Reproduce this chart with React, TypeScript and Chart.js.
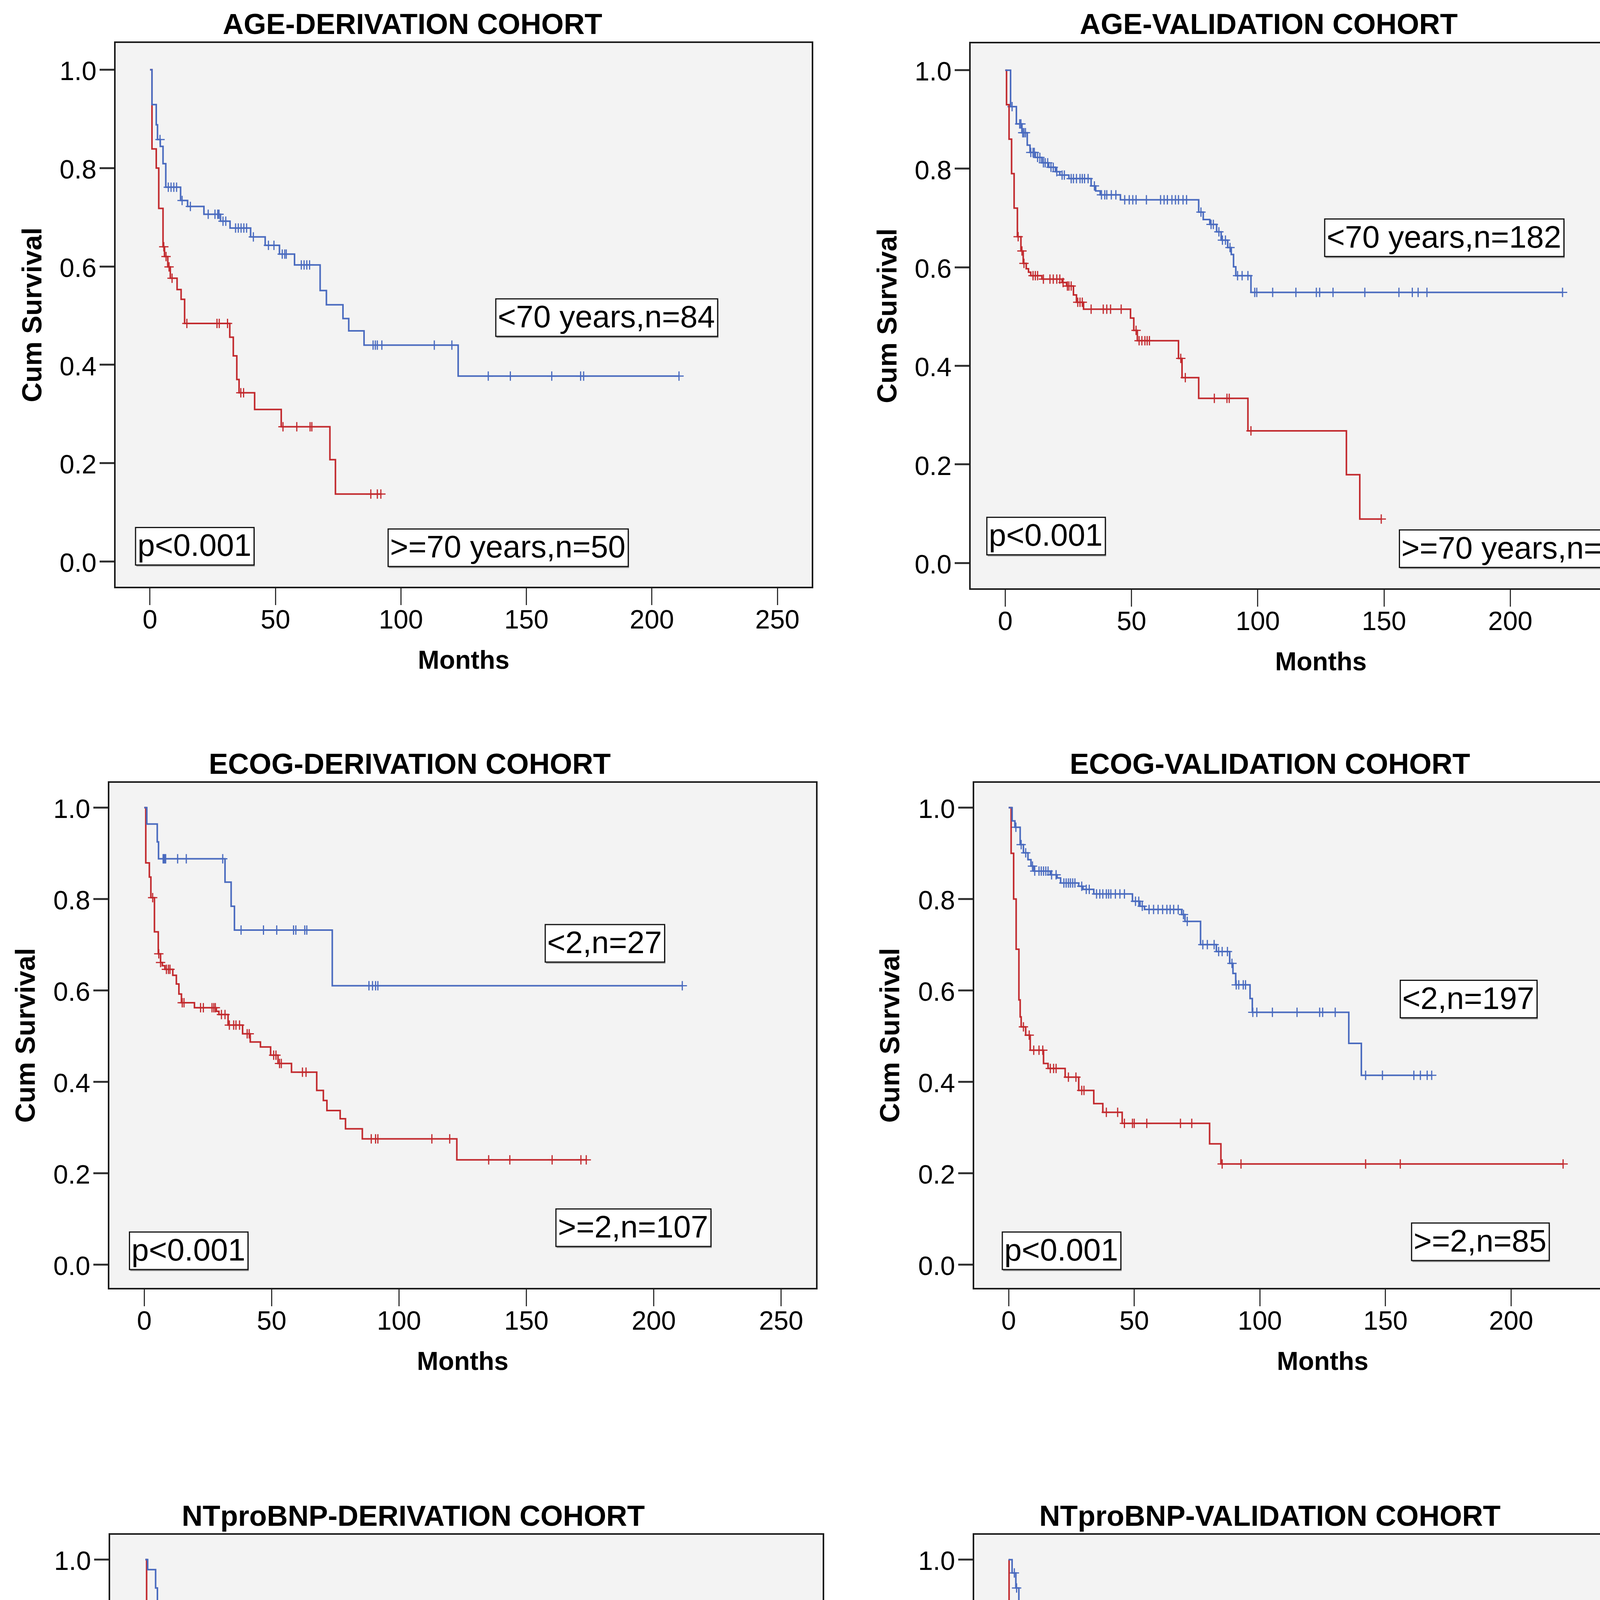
import React, { useEffect, useRef } from 'react';
import { Chart, registerables } from 'chart.js';

Chart.register(...registerables);

// ---------------- DATA ----------------
const xTickValues = [0, 50, 100, 150, 200, 250];
const yTickValues = [0, 0.2, 0.4, 0.6, 0.8, 1.0];

const panelTitles = [
  'AGE-DERIVATION COHORT',
  'AGE-VALIDATION COHORT',
  'ECOG-DERIVATION COHORT',
  'ECOG-VALIDATION COHORT',
  'NTproBNP-DERIVATION COHORT',
  'NTproBNP-VALIDATION COHORT',
];
const upperGroupLabels = ['<70 years,n=84', '<70 years,n=182', '<2,n=27', '<2,n=197', '<8500,n=80', '<8500,n=232'];
const lowerGroupLabels = ['>=70 years,n=50', '>=70 years,n=100', '>=2,n=107', '>=2,n=85', '>=8500,n=54', '>=8500,n=50'];
const pValueText = 'p<0.001';

// AGE - derivation
const ageDerLowTimes = [0.8, 2.5, 3.0, 4.1, 5.2, 6.3, 12.2, 15.0, 21.5, 28.1, 31.9, 40.1, 45.9, 51.6, 57.6, 67.8, 70.3, 76.9, 79.2, 85.3, 122.8];
const ageDerLowSurv = [0.929, 0.888, 0.858, 0.844, 0.809, 0.761, 0.734, 0.722, 0.706, 0.692, 0.678, 0.660, 0.643, 0.625, 0.603, 0.551, 0.522, 0.494, 0.469, 0.440, 0.377];
const ageDerLowCensor = [4.0, 7.3, 8.4, 9.5, 10.6, 12.8, 16.1, 23.2, 25.9, 27.0, 27.5, 29.1, 30.2, 34.1, 35.2, 36.3, 37.4, 38.5, 41.2, 47.2, 49.4, 52.7, 53.7, 54.3, 60.3, 61.4, 62.5, 63.6, 88.9, 89.8, 90.6, 92.4, 113.3, 120.3, 134.8, 143.6, 160.1, 171.6, 172.8, 210.8];
const ageDerHighTimes = [0.8, 2.5, 3.5, 5.2, 5.8, 7.1, 8.1, 10.8, 12.4, 13.8, 31.8, 33.2, 34.6, 35.5, 41.7, 52.3, 71.7, 73.9];
const ageDerHighSurv = [0.839, 0.800, 0.718, 0.640, 0.620, 0.599, 0.576, 0.553, 0.533, 0.484, 0.456, 0.418, 0.370, 0.343, 0.309, 0.274, 0.207, 0.137];
const ageDerHighCensor = [5.5, 6.4, 7.6, 8.8, 14.7, 26.7, 27.6, 30.9, 36.2, 37.3, 53.0, 58.5, 63.8, 64.5, 88.0, 90.6, 92.0];

// AGE - validation
const ageValLowTimes = [2.1, 4.4, 6.6, 8.7, 9.8, 11.9, 14.5, 17.2, 19.9, 21.6, 25.2, 34.0, 35.8, 37.6, 45.6, 76.6, 78.4, 81.0, 83.7, 85.5, 88.1, 89.5, 90.4, 91.3, 97.3];
const ageValLowSurv = [0.926, 0.891, 0.873, 0.848, 0.833, 0.823, 0.812, 0.803, 0.794, 0.787, 0.780, 0.765, 0.755, 0.747, 0.737, 0.712, 0.697, 0.687, 0.672, 0.655, 0.640, 0.626, 0.601, 0.583, 0.549];
const ageValLowCensor = [2.7, 5.7, 6.2, 6.9, 7.4, 8.0, 10.1, 11.0, 11.5, 12.8, 13.7, 15.1, 15.8, 16.8, 18.1, 19.0, 20.4, 22.5, 23.4, 26.1, 27.0, 28.2, 29.6, 30.5, 31.4, 32.8, 35.3, 38.1, 39.4, 40.2, 42.0, 43.8, 47.3, 49.1, 50.5, 51.8, 55.9, 61.5, 62.9, 64.2, 66.0, 67.4, 68.6, 70.4, 71.8, 77.5, 81.5, 82.4, 84.6, 86.0, 87.2, 89.0, 92.0, 93.8, 96.1, 98.8, 99.6, 105.9, 115.1, 123.2, 124.5, 129.8, 142.4, 155.9, 161.2, 163.5, 167.0, 220.7];
const ageValHighTimes = [0.5, 1.5, 2.5, 3.5, 4.8, 6.2, 7.1, 8.3, 9.2, 10.1, 14.5, 22.5, 24.3, 27.0, 28.2, 31.0, 49.6, 50.9, 52.3, 68.6, 70.0, 76.6, 96.1, 135.1, 140.4];
const ageValHighSurv = [0.93, 0.86, 0.79, 0.72, 0.662, 0.633, 0.608, 0.597, 0.590, 0.583, 0.576, 0.569, 0.562, 0.544, 0.529, 0.515, 0.497, 0.472, 0.451, 0.415, 0.376, 0.334, 0.268, 0.179, 0.089];
const ageValHighCensor = [5.1, 6.6, 7.4, 11.0, 11.9, 12.8, 15.1, 17.7, 19.0, 20.4, 21.6, 22.9, 24.6, 25.2, 26.1, 28.7, 29.6, 30.5, 34.0, 38.8, 40.2, 41.7, 45.9, 51.8, 53.0, 54.1, 55.3, 56.2, 57.1, 69.5, 71.3, 82.8, 87.8, 88.7, 97.3, 148.9];

// ECOG - derivation
const ecogDerLowTimes = [1.0, 5.1, 5.6, 31.7, 34.1, 35.4, 73.8];
const ecogDerLowSurv = [0.964, 0.925, 0.888, 0.837, 0.784, 0.732, 0.610];
const ecogDerLowCensor = [7.4, 7.7, 8.1, 8.4, 13.1, 16.5, 30.8, 38.0, 46.8, 52.0, 58.6, 59.5, 63.0, 63.8, 88.2, 89.6, 90.8, 91.7, 211.2];
const ecogDerHighTimes = [0.6, 2.0, 2.6, 4.0, 5.5, 6.4, 7.1, 8.1, 11.2, 12.6, 13.6, 14.6, 19.7, 28.3, 29.3, 32.9, 38.6, 41.6, 45.6, 49.6, 52.5, 57.8, 67.7, 70.3, 71.7, 76.9, 79.0, 85.6, 122.7];
const ecogDerHighSurv = [0.879, 0.848, 0.803, 0.728, 0.680, 0.661, 0.654, 0.646, 0.633, 0.614, 0.592, 0.573, 0.562, 0.554, 0.547, 0.524, 0.505, 0.487, 0.476, 0.458, 0.440, 0.421, 0.381, 0.359, 0.337, 0.319, 0.297, 0.275, 0.229];
const ecogDerHighCensor = [3.3, 5.7, 6.4, 8.7, 9.5, 10.1, 14.9, 15.6, 22.1, 23.2, 26.6, 27.3, 27.9, 30.3, 31.7, 33.4, 35.1, 36.0, 37.4, 40.4, 41.2, 50.8, 51.7, 53.1, 53.8, 62.1, 63.5, 89.1, 90.8, 91.7, 112.9, 119.9, 135.2, 143.5, 160.1, 171.4, 173.5];

// ECOG - validation
const ecogValLowTimes = [1.4, 2.5, 4.6, 5.9, 7.7, 8.9, 10.0, 16.6, 19.3, 20.7, 27.9, 29.6, 33.9, 49.3, 52.3, 54.1, 68.9, 70.2, 76.4, 82.7, 88.0, 89.3, 90.4, 96.1, 97.0, 135.4, 140.4];
const ecogValLowSurv = [0.971, 0.957, 0.919, 0.901, 0.886, 0.872, 0.861, 0.853, 0.846, 0.835, 0.828, 0.821, 0.811, 0.795, 0.784, 0.777, 0.766, 0.751, 0.700, 0.685, 0.659, 0.637, 0.612, 0.582, 0.552, 0.484, 0.414];
const ecogValLowCensor = [2.9, 5.0, 6.8, 9.5, 10.4, 12.1, 13.0, 13.9, 14.8, 15.7, 17.1, 18.9, 22.0, 22.9, 23.8, 24.6, 25.5, 26.4, 29.1, 30.9, 32.1, 35.0, 36.3, 37.5, 38.9, 39.8, 40.7, 42.5, 44.3, 46.1, 50.5, 51.8, 53.2, 55.9, 57.7, 59.5, 61.3, 63.0, 64.3, 65.7, 67.5, 69.6, 71.1, 77.3, 79.1, 81.8, 83.6, 85.0, 87.1, 88.9, 90.6, 91.6, 93.4, 94.3, 97.2, 98.8, 105.0, 114.8, 123.8, 125.0, 130.0, 142.1, 148.8, 161.3, 163.9, 166.6, 168.4];
const ecogValHighTimes = [1.0, 2.0, 3.0, 4.1, 4.6, 5.0, 6.8, 8.6, 13.9, 15.7, 22.5, 27.9, 33.9, 37.5, 45.2, 80.0, 84.5];
const ecogValHighSurv = [0.90, 0.80, 0.69, 0.579, 0.542, 0.520, 0.502, 0.469, 0.440, 0.429, 0.410, 0.381, 0.352, 0.333, 0.309, 0.264, 0.220];
const ecogValHighCensor = [5.9, 8.2, 10.0, 12.1, 13.6, 16.6, 17.9, 18.9, 23.8, 26.8, 29.1, 30.0, 38.9, 43.4, 46.1, 49.3, 50.0, 55.0, 68.4, 72.9, 85.0, 92.5, 142.1, 155.9, 220.7];

// NTproBNP - derivation
const bnpDerLowTimes = [0.9, 4.0, 4.7, 6.0, 9.1, 11.2, 13.8, 14.3, 21.9, 32.2, 33.1, 34.0, 35.0, 40.2, 50.0, 52.2, 57.4, 70.7, 71.9, 73.6, 79.3, 85.3, 122.8];
const bnpDerLowSurv = [0.978, 0.938, 0.890, 0.839, 0.821, 0.813, 0.799, 0.784, 0.769, 0.736, 0.714, 0.689, 0.671, 0.652, 0.634, 0.612, 0.589, 0.557, 0.520, 0.491, 0.458, 0.425, 0.352];
const bnpDerLowCensor = [7.4, 8.1, 8.6, 9.5, 10.3, 12.9, 15.0, 16.0, 23.6, 25.9, 28.4, 29.8, 31.0, 33.6, 35.7, 36.7, 37.9, 46.6, 47.8, 49.1, 51.7, 52.6, 58.6, 59.8, 60.9, 62.1, 63.3, 64.3, 90.9, 91.9, 112.9, 119.8, 143.6, 160.0, 171.6, 172.4, 210.9];
const bnpDerHighTimes = [0.5, 0.9, 1.7, 2.6, 3.6, 4.0, 5.2, 5.7, 6.9, 13.3, 28.1, 41.9, 46.0, 67.6, 68.1, 76.7];
const bnpDerHighSurv = [0.89, 0.78, 0.707, 0.634, 0.612, 0.575, 0.535, 0.517, 0.495, 0.411, 0.387, 0.357, 0.327, 0.286, 0.246, 0.204];
const bnpDerHighCensor = [3.4, 6.0, 6.4, 26.7, 27.6, 28.6, 37.9, 41.4, 54.3, 62.1, 63.3, 64.3, 88.4, 89.7, 92.2, 135.0];

// NTproBNP - validation
const bnpValLowTimes = [1.4, 2.9, 4.1, 5.9, 8.2, 10.4, 18.4, 21.1, 26.1, 33.2, 36.3, 48.8, 50.5, 53.2, 68.9, 70.2, 76.4, 80.0, 84.5, 88.6, 89.8, 90.7, 95.7, 97.0, 140.4];
const bnpValLowSurv = [0.971, 0.938, 0.887, 0.861, 0.835, 0.821, 0.810, 0.799, 0.780, 0.766, 0.755, 0.744, 0.733, 0.717, 0.707, 0.692, 0.652, 0.638, 0.608, 0.590, 0.568, 0.550, 0.524, 0.497, 0.442];
const bnpValLowCensor = [2.3, 3.2, 5.0, 6.4, 7.1, 8.9, 10.0, 10.7, 11.3, 12.1, 13.0, 13.9, 14.8, 15.7, 16.6, 19.3, 20.2, 22.0, 22.9, 23.8, 24.6, 27.3, 28.2, 29.1, 30.0, 30.9, 31.8, 32.7, 34.5, 35.4, 38.0, 38.9, 39.8, 40.7, 42.5, 43.4, 44.3, 45.2, 46.1, 49.6, 51.4, 52.3, 54.1, 55.9, 57.7, 59.5, 61.3, 63.0, 64.3, 65.7, 67.5, 71.1, 72.0, 72.9, 77.3, 79.1, 80.9, 81.8, 82.7, 83.6, 85.4, 86.3, 87.1, 88.0, 88.9, 91.6, 92.5, 94.3, 96.4, 97.9, 98.8, 105.0, 114.8, 123.8, 124.6, 129.6, 142.1, 148.8, 155.9, 161.3, 163.0, 167.5, 220.7];
const bnpValHighTimes = [0.2, 0.4, 1.1, 1.8, 2.3, 3.2, 4.1, 5.0, 6.8, 8.6, 14.3, 16.6, 33.9, 135.4];
const bnpValHighSurv = [0.91, 0.84, 0.706, 0.619, 0.546, 0.51, 0.48, 0.444, 0.422, 0.374, 0.323, 0.294, 0.245, 0.122];
const bnpValHighCensor = [6.4, 7.7, 12.1, 13.0, 13.9, 17.5, 18.9, 20.2, 23.8, 26.4, 38.0, 71.4, 86.3, 142.1];

// ---------------- STYLE / LAYOUT ----------------
const BASE_FONT = "'Liberation Sans', Arial, sans-serif";
const BLUE = '#4a6bbf';
const RED = '#c22a2e';
const PLOT_BG = '#f3f3f3';
const X_MIN = -14;
const X_MAX = 264;
const Y_MIN = -0.053;
const Y_MAX = 1.056;

function fontAvailable(name: string): boolean {
  try {
    const ctx = document.createElement('canvas').getContext('2d');
    if (!ctx) return false;
    const sample = 'AGE-DERIVATION COHORT 0123456789';
    ctx.font = `bold 100px monospace`;
    const a = ctx.measureText(sample).width;
    ctx.font = `bold 100px '${name}', monospace`;
    const b = ctx.measureText(sample).width;
    return Math.abs(a - b) > 0.5;
  } catch (e) {
    return false;
  }
}

interface Typo { narrow: string; title: number; tick: number; months: number; cum: number }

function getTypo(): Typo {
  if (fontAvailable('Liberation Sans Narrow')) {
    return { narrow: "'Liberation Sans Narrow', 'Liberation Sans', sans-serif", title: 88, tick: 74, months: 76, cum: 80 };
  }
  return { narrow: BASE_FONT, title: 74, tick: 68, months: 66, cum: 70 };
}

interface Series { times: number[]; surv: number[]; censor: number[] }

interface Layout {
  cl: number; ct: number; cb: number;
  L: number; T: number; R: number; B: number;
  tcx: number; tcy: number; ytx: number;
  upperPos: [number, number]; lowerPos: [number, number]; pPos: [number, number];
}

const layouts: Layout[] = [
  { cl: 0, ct: 0, cb: 1780, L: 294, T: 108, R: 2080, B: 1504, tcx: 1056, tcy: 67, ytx: 87, upperPos: [137.8, 0.534], lowerPos: [94.9, 0.066], pPos: [-5.75, 0.069] },
  { cl: 2180, ct: 0, cb: 1780, L: 2483, T: 109, R: 4280, B: 1508, tcx: 3248, tcy: 67, ytx: 2276, upperPos: [126.5, 0.698], lowerPos: [156.1, 0.067], pPos: [-7.3, 0.0926] },
  { cl: 0, ct: 1850, cb: 3580, L: 278, T: 2002, R: 2091, B: 3299, tcx: 1049, tcy: 1961, ytx: 70, upperPos: [157.4, 0.744], lowerPos: [161.6, 0.1215], pPos: [-5.8, 0.071] },
  { cl: 2180, ct: 1850, cb: 3580, L: 2492, T: 2002, R: 4280, B: 3299, tcx: 3251, tcy: 1961, ytx: 2283, upperPos: [155.9, 0.622], lowerPos: [160.4, 0.0907], pPos: [-2.5, 0.071] },
  { cl: 0, ct: 3700, cb: 5480, L: 280, T: 3927, R: 2108, B: 5226, tcx: 1058, tcy: 3886, ytx: 70, upperPos: [157.4, 0.5625], lowerPos: [157.2, 0.0908], pPos: [-2.6, 0.0848] },
  { cl: 2180, ct: 3700, cb: 5480, L: 2492, T: 3927, R: 4278, B: 5227, tcx: 3251, tcy: 3886, ytx: 2283, upperPos: [157.7, 0.65], lowerPos: [156.2, 0.0702], pPos: [-1.7, 0.0762] },
];

const PAD_R = 20;
const TICK_LABEL_OFFSET = 86;  // tick-label centre below plot box
const MONTHS_OFFSET = 190;     // "Months" centre below plot box

const lowSeries: Series[] = [
  { times: ageDerLowTimes, surv: ageDerLowSurv, censor: ageDerLowCensor },
  { times: ageValLowTimes, surv: ageValLowSurv, censor: ageValLowCensor },
  { times: ecogDerLowTimes, surv: ecogDerLowSurv, censor: ecogDerLowCensor },
  { times: ecogValLowTimes, surv: ecogValLowSurv, censor: ecogValLowCensor },
  { times: bnpDerLowTimes, surv: bnpDerLowSurv, censor: bnpDerLowCensor },
  { times: bnpValLowTimes, surv: bnpValLowSurv, censor: bnpValLowCensor },
];
const highSeries: Series[] = [
  { times: ageDerHighTimes, surv: ageDerHighSurv, censor: ageDerHighCensor },
  { times: ageValHighTimes, surv: ageValHighSurv, censor: ageValHighCensor },
  { times: ecogDerHighTimes, surv: ecogDerHighSurv, censor: ecogDerHighCensor },
  { times: ecogValHighTimes, surv: ecogValHighSurv, censor: ecogValHighCensor },
  { times: bnpDerHighTimes, surv: bnpDerHighSurv, censor: bnpDerHighCensor },
  { times: bnpValHighTimes, surv: bnpValHighSurv, censor: bnpValHighCensor },
];

function survAt(s: Series, t: number): number {
  let v = 1;
  for (let i = 0; i < s.times.length; i++) if (s.times[i] <= t) v = s.surv[i];
  return v;
}

function stepPoints(s: Series) {
  const pts: { x: number; y: number }[] = [{ x: 0, y: 1 }];
  s.times.forEach((t, i) => pts.push({ x: t, y: s.surv[i] }));
  const end = Math.max(s.times[s.times.length - 1], ...s.censor);
  pts.push({ x: end, y: s.surv[s.surv.length - 1] });
  return pts;
}

function censorPoints(s: Series) {
  return s.censor.map((t) => ({ x: t, y: survAt(s, t) }));
}

function Panel({ idx }: { idx: number }) {
  const ref = useRef<HTMLCanvasElement>(null);
  const G = layouts[idx];
  const w = G.R + PAD_R - G.cl;
  const h = G.cb - G.ct;
  useEffect(() => {
    const canvas = ref.current;
    if (!canvas) return;
    const ty = getTypo();
    const padL = 2 * (G.tcx - G.cl) - (G.R - G.cl);
    const yAxisW = G.L - G.cl - padL;
    const xAxisH = G.cb - G.B;
    const titlePadTop = G.tcy - G.ct - ty.title / 2;
    const titlePadBot = Math.max(0, G.T - G.ct - titlePadTop - ty.title);
    const cumLH = ty.cum * 1.2;
    const yTitlePad = G.ytx - (G.cl + padL) - cumLH / 2;
    const monthsLH = ty.months * 1.2;
    const xTitlePad = G.cb - (G.B + MONTHS_OFFSET) - monthsLH / 2;
    const tickLH = ty.tick * 1.2;
    const xTickPad = Math.max(0, TICK_LABEL_OFFSET - 45 - tickLH / 2);

    const labels = [
      { text: upperGroupLabels[idx], pos: G.upperPos },
      { text: lowerGroupLabels[idx], pos: G.lowerPos },
      { text: pValueText, pos: G.pPos },
    ];
    const framePlugin = {
      id: 'kmFrame',
      beforeDraw(chart: any) {
        const { ctx, chartArea: a } = chart;
        ctx.save();
        ctx.fillStyle = PLOT_BG;
        ctx.fillRect(a.left, a.top, a.right - a.left, a.bottom - a.top);
        ctx.restore();
      },
      afterDraw(chart: any) {
        const { ctx, chartArea: a, scales } = chart;
        ctx.save();
        ctx.strokeStyle = '#1a1a1a';
        ctx.lineWidth = 4;
        ctx.strokeRect(a.left, a.top, a.right - a.left, a.bottom - a.top);
        ctx.font = `80px ${BASE_FONT}`;
        ctx.textBaseline = 'middle';
        ctx.textAlign = 'left';
        for (const lb of labels) {
          const px = scales.x.getPixelForValue(lb.pos[0]);
          const py = scales.y.getPixelForValue(lb.pos[1]);
          const bw = ctx.measureText(lb.text).width + 12;
          const bh = 96;
          ctx.fillStyle = '#9c9c9c';
          ctx.fillRect(px + 2, py + 4, bw, bh);
          ctx.fillStyle = '#ffffff';
          ctx.fillRect(px, py, bw, bh);
          ctx.strokeStyle = '#111';
          ctx.lineWidth = 3;
          ctx.strokeRect(px, py, bw, bh);
          ctx.fillStyle = '#000';
          ctx.fillText(lb.text, px + 5, py + bh / 2 + 3);
        }
        ctx.restore();
      },
    };
    const low = lowSeries[idx];
    const high = highSeries[idx];
    const chart = new Chart(canvas, {
      type: 'line',
      data: {
        datasets: [
          { data: stepPoints(low), borderColor: BLUE, borderWidth: 4, stepped: true, pointRadius: 0, fill: false },
          { data: stepPoints(high), borderColor: RED, borderWidth: 4, stepped: true, pointRadius: 0, fill: false },
          { type: 'scatter', data: censorPoints(low), borderColor: BLUE, backgroundColor: BLUE, pointStyle: 'cross', pointRadius: 12, borderWidth: 3, showLine: false } as any,
          { type: 'scatter', data: censorPoints(high), borderColor: RED, backgroundColor: RED, pointStyle: 'cross', pointRadius: 12, borderWidth: 3, showLine: false } as any,
        ],
      },
      options: {
        responsive: false,
        animation: false,
        devicePixelRatio: 1,
        events: [],
        layout: { autoPadding: false, padding: { left: padL, right: PAD_R, top: 0, bottom: 0 } },
        plugins: {
          legend: { display: false },
          tooltip: { enabled: false },
          title: {
            display: true,
            text: panelTitles[idx],
            color: '#000',
            font: { family: ty.narrow, size: ty.title, weight: 'bold', lineHeight: 1 },
            padding: { top: titlePadTop, bottom: titlePadBot },
          },
        },
        scales: {
          x: {
            type: 'linear',
            min: X_MIN,
            max: X_MAX,
            afterBuildTicks: (s: any) => { s.ticks = xTickValues.map((v) => ({ value: v })); },
            afterFit: (s: any) => { s.height = xAxisH; },
            ticks: { color: '#000', font: { family: ty.narrow, size: ty.tick, lineHeight: 1.2 }, padding: xTickPad, autoSkip: false, maxRotation: 0, callback: (v: any) => String(v) },
            grid: { display: true, drawOnChartArea: false, drawTicks: true, tickLength: 45, tickWidth: 3, tickColor: '#333' },
            border: { display: false },
            title: { display: true, text: 'Months', color: '#000', font: { family: ty.narrow, size: ty.months, weight: 'bold', lineHeight: 1.2 }, padding: { top: 0, bottom: xTitlePad } },
          },
          y: {
            type: 'linear',
            min: Y_MIN,
            max: Y_MAX,
            afterBuildTicks: (s: any) => { s.ticks = yTickValues.map((v) => ({ value: v })); },
            afterFit: (s: any) => { s.width = yAxisW; },
            ticks: { color: '#000', font: { family: ty.narrow, size: ty.tick, lineHeight: 1.2 }, padding: 8, labelOffset: 8, autoSkip: false, callback: (v: any) => Number(v).toFixed(1) },
            grid: { display: true, drawOnChartArea: false, drawTicks: true, tickLength: 39, tickWidth: 5, tickColor: '#333' },
            border: { display: false },
            title: { display: true, text: 'Cum Survival', color: '#000', font: { family: ty.narrow, size: ty.cum, weight: 'bold', lineHeight: 1.2 }, padding: { top: yTitlePad, bottom: 0 } },
          },
        },
      } as any,
      plugins: [framePlugin],
    });
    return () => chart.destroy();
  }, [idx]);
  return (
    <canvas
      ref={ref}
      width={w}
      height={h}
      style={{ position: 'absolute', left: G.cl, top: G.ct, width: w, height: h }}
    />
  );
}

export default function App() {
  return (
    <div style={{ position: 'absolute', left: 0, top: 0, width: 4335, height: 5480, background: '#ffffff', overflow: 'hidden' }}>
      {layouts.map((_, i) => (
        <Panel key={i} idx={i} />
      ))}
    </div>
  );
}
